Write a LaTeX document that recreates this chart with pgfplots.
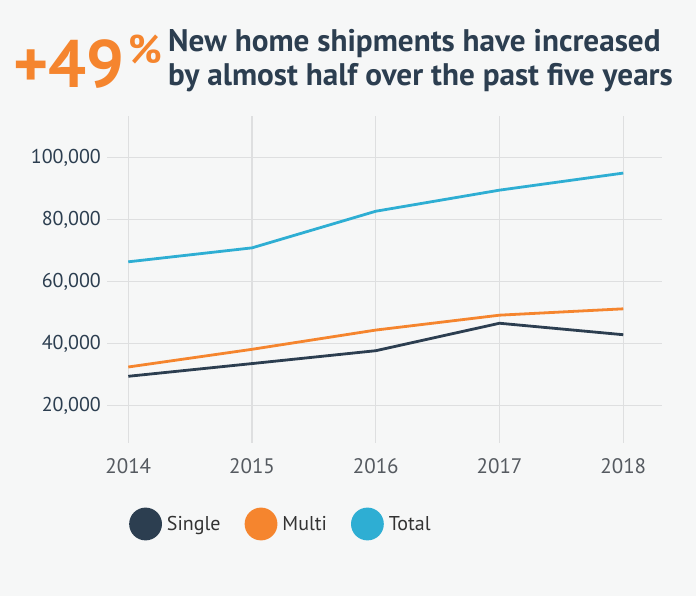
\documentclass[border=0pt]{standalone}
\usepackage{pgfplots}
\pgfplotsset{compat=1.18}
\usepackage{fontspec}
\setmainfont{PT Sans}
\definecolor{bg}{HTML}{F6F7F7}
\definecolor{navy}{HTML}{2C3E50}
\definecolor{orng}{HTML}{F5852E}
\definecolor{cyan2}{HTML}{2EAED3}
\definecolor{gridc}{HTML}{DEDFE0}
\definecolor{xlab}{HTML}{555A60}
\begin{document}
\begin{tikzpicture}
\fill[bg] (0,0) rectangle (696bp,596bp);
\node[anchor=base west, inner sep=0, text=orng, font=\fontsize{67bp}{67bp}\selectfont\bfseries] at (13bp,508bp) {+49};
\node[anchor=base west, inner sep=0, text=orng, font=\fontsize{40bp}{40bp}\selectfont\bfseries] at (128bp,532bp) {\%};
\node[anchor=base west, inner sep=0, text=navy, font=\fontsize{31.2bp}{31.2bp}\selectfont\bfseries] at (168bp,544bp) {New home shipments have increased};
\node[anchor=base west, inner sep=0, text=navy, font=\fontsize{31.2bp}{31.2bp}\selectfont\bfseries] at (168bp,510bp) {by almost half over the past five years};
\begin{axis}[
  at={(107bp,153bp)}, anchor=south west,
  scale only axis, width=555bp, height=327bp,
  xmin=2013.828, xmax=2018.313, ymin=8000, ymax=113400,
  axis line style={draw=none},
  major tick length=0pt,
  xtick={2014,2015,2016,2017,2018},
  xticklabels={2014,2015,2016,2017,2018},
  ytick={20000,40000,60000,80000,100000},
  yticklabels={{20,000},{40,000},{60,000},{80,000},{100,000}},
  grid=major,
  major grid style={draw=gridc, line width=1.3bp},
  xticklabel style={inner sep=0, anchor=north, yshift=-15bp, text=xlab, font=\fontsize{21bp}{21bp}\selectfont},
  yticklabel style={inner sep=0, anchor=east, xshift=-6bp, text=navy, font=\fontsize{20bp}{20bp}\selectfont},
  scaled y ticks=false,
  legend columns=3,
  legend style={at={(0.0396,-0.2477)}, anchor=west, draw=none, fill=none, inner sep=0,
    font=\fontsize{20bp}{20bp}\selectfont, text=black!80,
    nodes={inner sep=0pt},
    /tikz/every odd column/.append style={column sep=5bp},
    /tikz/every even column/.append style={column sep=24bp}},
  legend image code/.code={\fill (15bp,0) circle (15bp);},
  every axis plot/.append style={line width=2.8bp, line join=round},
]
\addplot[color=navy] coordinates {(2014,29500) (2015,33600) (2016,37750) (2017,46600) (2018,42900)};
\addlegendentry{Single}
\addplot[color=orng] coordinates {(2014,32500) (2015,38200) (2016,44400) (2017,49200) (2018,51250)};
\addlegendentry{Multi}
\addplot[color=cyan2] coordinates {(2014,66400) (2015,70900) (2016,82700) (2017,89500) (2018,95000)};
\addlegendentry{Total}
\end{axis}
\end{tikzpicture}
\end{document}
